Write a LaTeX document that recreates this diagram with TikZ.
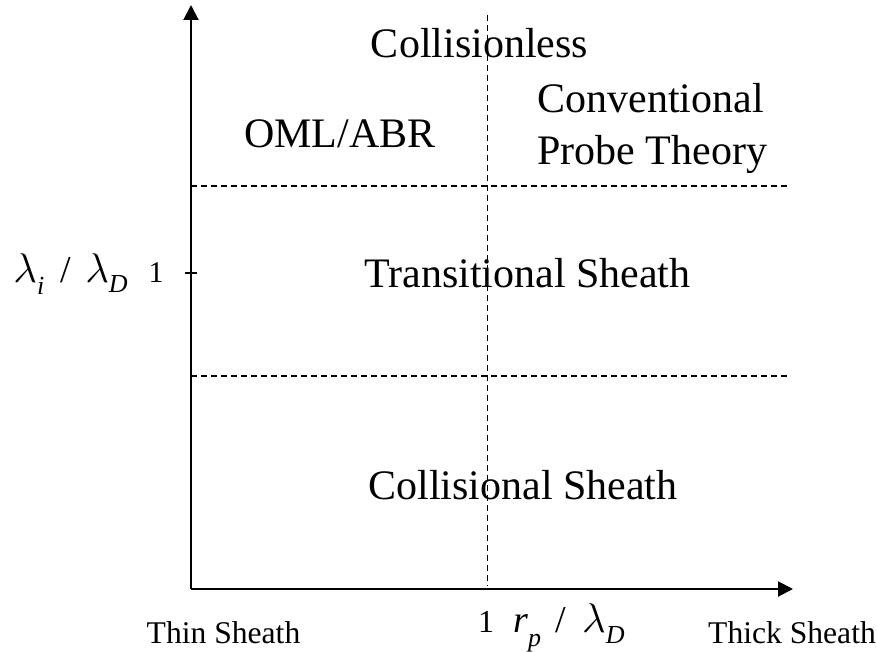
\documentclass[tikz,border=0pt]{standalone}
\usepackage{fontspec}
\setmainfont{Liberation Serif}
\usetikzlibrary{arrows.meta}
\newcommand{\lam}{{\fontsize{20}{24}\selectfont$\lambda$}}
\newcommand{\subsc}[2]{\raisebox{-#1}{\fontsize{13}{15}\selectfont\itshape #2}}
\begin{document}
\begin{tikzpicture}[x=0.5pt,y=-0.5pt,
  axis/.style={line width=1pt,-{Triangle[length=7.5pt,width=7.5pt]}},
  guide/.style={line width=0.6pt,dash pattern=on 3pt off 2pt},
  big/.style={font=\fontsize{21}{26}\selectfont,inner sep=0pt},
  mid/.style={font=\fontsize{15.8}{19}\selectfont,inner sep=0pt},
  one/.style={inner sep=0pt}]
\useasboundingbox (0,0) rectangle (877,652);
\coordinate (O) at (191,589);
\coordinate (Yt) at (191,5);
\coordinate (Xt) at (793,589);
\coordinate (V1) at (487.5,15);
\coordinate (V0) at (487.5,586);
\coordinate (H1a) at (191,186);
\coordinate (H1b) at (787,186);
\coordinate (H2a) at (191,376);
\coordinate (H2b) at (787,376);
\coordinate (Ta) at (185,273);
\coordinate (Tb) at (197,273);
\draw[guide] (V1) -- (V0);
\draw[guide] (H1a) -- (H1b);
\draw[guide] (H2a) -- (H2b);
\draw[axis] (O) -- (Yt);
\draw[axis] (O) -- (Xt);
\draw[line width=0.8pt] (Ta) -- (Tb);
\node[big,anchor=base] (coll) at (479.5,58) {Collisionless};
\node[big,align=left,anchor=west] (conv) at (537,128) {Conventional\\Probe Theory};
\node[big] (oml) at (340,134) {OML/ABR};
\node[big,anchor=base] (trans) at (527.5,287) {Transitional Sheath};
\node[big] (cols) at (523,485) {Collisional Sheath};
\node[one,anchor=base west] (ylab) at (13,282) {\lam\subsc{6pt}{i}\hspace{8pt}{\fontsize{19}{23}\selectfont /}\hspace{7.2pt}\lam\subsc{5pt}{D}};
\node[one,anchor=base,font=\fontsize{15}{18}\selectfont] (y1) at (156,282) {1};
\node[one,anchor=base,font=\fontsize{16}{19}\selectfont] (x1) at (486,632) {1};
\node[one,anchor=base west] (xlab) at (513,632) {{\fontsize{19}{23}\selectfont\itshape r}\subsc{7pt}{p}\hspace{7pt}{\fontsize{19}{23}\selectfont /}\hspace{8.2pt}\lam\subsc{5.5pt}{D}};
\node[mid,anchor=base] (thin) at (223.5,643) {Thin Sheath};
\node[mid,anchor=base] (thick) at (792,643) {Thick Sheath};
\end{tikzpicture}
\end{document}
